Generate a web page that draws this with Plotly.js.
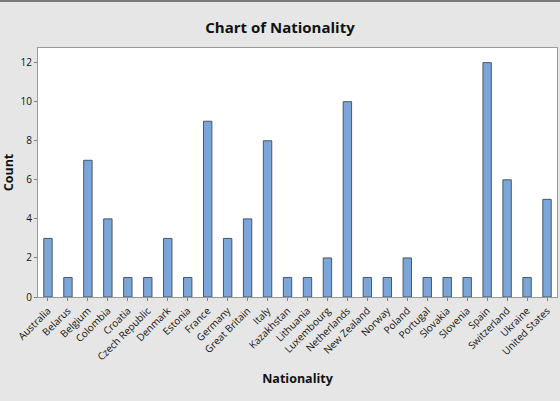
<!DOCTYPE html>
<html>
<head>
<meta charset="utf-8">
<script src="https://cdn.plot.ly/plotly-3.0.1.min.js"></script>
<style>
  html, body { margin: 0; padding: 0; background: #e6e6e6; }
  #chart { width: 560px; height: 401px; }
</style>
</head>
<body>
<div id="chart"></div>
<script>
// Counts of respondents by nationality
const nationalities = [
  "Australia", "Belarus", "Belgium", "Colombia", "Croatia", "Czech Republic",
  "Denmark", "Estonia", "France", "Germany", "Great Britain", "Italy",
  "Kazakhstan", "Lithuania", "Luxembourg", "Netherlands", "New Zealand",
  "Norway", "Poland", "Portugal", "Slovakia", "Slovenia", "Spain",
  "Switzerland", "Ukraine", "United States"
];
const counts = [3, 1, 7, 4, 1, 1, 3, 1, 9, 3, 4, 8, 1, 1, 2, 10, 1, 1, 2, 1, 1, 1, 12, 6, 1, 5];
const countTicks = [0, 2, 4, 6, 8, 10, 12];

const trace = {
  type: "bar",
  x: nationalities,
  y: counts,
  width: 0.42,
  marker: { color: "#7ba6d9", line: { color: "#4a5663", width: 1 } },
  hoverinfo: "x+y"
};

const font = "'Open Sans', 'Noto Sans', sans-serif";
const plotH = 401 - 48 - 104;

const layout = {
  width: 560,
  height: 401,
  paper_bgcolor: "#e6e6e6",
  plot_bgcolor: "#ffffff",
  margin: { l: 38, r: 3, t: 48, b: 104 },
  showlegend: false,
  title: {
    text: "<b>Chart of Nationality</b>",
    font: { family: font, size: 15, color: "#111111" },
    x: 0.5, xanchor: "center", y: 0.93, yanchor: "middle"
  },
  xaxis: {
    type: "category",
    range: [-0.5, 25.5],
    tickangle: -45,
    ticks: "outside",
    ticklen: 3,
    tickcolor: "#808080",
    tickfont: { family: font, size: 10, color: "#111111" },
    showline: true,
    linecolor: "#9a9a9a",
    mirror: true,
    showgrid: false,
    zeroline: false,
    title: {
      text: "<b>Nationality</b>",
      font: { family: font, size: 12.5, color: "#111111" },
      standoff: 12
    }
  },
  yaxis: {
    range: [0, 12.75],
    tickvals: countTicks,
    ticks: "outside",
    ticklen: 3,
    tickcolor: "#808080",
    tickfont: { family: font, size: 10, color: "#111111" },
    showline: true,
    linecolor: "#9a9a9a",
    mirror: true,
    showgrid: false,
    zeroline: false,
    title: {
      text: "<b>Count</b>",
      font: { family: font, size: 12.5, color: "#111111" },
      standoff: 5
    }
  },
  shapes: [
    { type: "line", xref: "paper", yref: "paper", x0: -0.1, x1: 1.1,
      y0: (plotH + 47) / plotH, y1: (plotH + 47) / plotH,
      line: { color: "#7a7a7a", width: 2 } }
  ]
};

Plotly.newPlot("chart", [trace], layout, { displayModeBar: false, staticPlot: true });
</script>
</body>
</html>
